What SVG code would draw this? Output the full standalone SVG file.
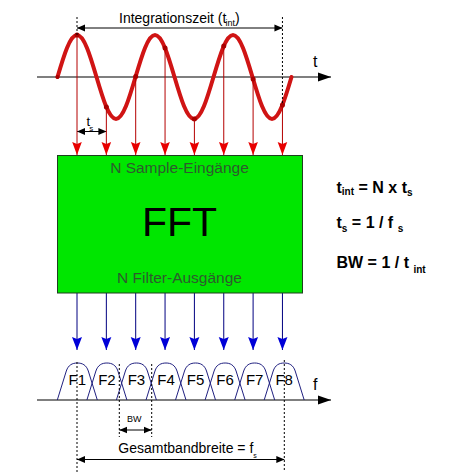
<svg xmlns="http://www.w3.org/2000/svg" width="449" height="472" viewBox="0 0 449 472">
<style>
text{font-family:"Liberation Sans",Arial,sans-serif}
.lbl{font-size:14px;fill:#000}
.box{fill:#00e600;stroke:#1f3f1f;stroke-width:1}
.boxt{font-size:15.5px;fill:#2e5a2e;text-anchor:middle}
.fft{font-size:41px;fill:#000;text-anchor:middle}
.frm{font-size:16px;font-weight:bold;fill:#000}
.sub{font-size:10px}
.axis{stroke:#000;stroke-width:1.2;fill:none}
.dim{stroke:#000;stroke-width:1;fill:none}
.dot{stroke:#000;stroke-width:1;stroke-dasharray:2,2;fill:none}
.samp{stroke:#b40000;stroke-width:1;fill:none}
.out{stroke:#000080;stroke-width:1;fill:none}
.wave{stroke:#d01414;stroke-width:4;fill:none;stroke-linecap:round}
.sdot{fill:#a80000}
.filt{stroke:#202080;stroke-width:1;fill:none}
.fl{font-size:15px;fill:#000;text-anchor:middle}
</style>
<defs>
<marker id="ar" markerUnits="userSpaceOnUse" viewBox="0 -6 13 12" markerWidth="13" markerHeight="12" refX="13" refY="0" orient="auto">
<path d="M0,-4.8 L13,0 L0,4.8 L2,0 z" fill="#e80000"/>
</marker>
<marker id="ab" markerUnits="userSpaceOnUse" viewBox="0 -6 13 12" markerWidth="13" markerHeight="12" refX="13" refY="0" orient="auto">
<path d="M0,-5 L13,0 L0,5 L2,0 z" fill="#0000d8"/>
</marker>
<marker id="ak" markerUnits="userSpaceOnUse" viewBox="0 -4 8 8" markerWidth="8" markerHeight="8" refX="8" refY="0" orient="auto-start-reverse">
<path d="M0,-3.5 L8,0 L0,3.5 z" fill="#000"/>
</marker>
<marker id="ax" markerUnits="userSpaceOnUse" viewBox="0 -5 13 10" markerWidth="13" markerHeight="10" refX="13" refY="0" orient="auto">
<path d="M0,-4.5 L13,0 L0,4.5 z" fill="#000"/>
</marker>
</defs>
<rect width="449" height="472" fill="#fff"/>

<g id="time-axis">
<line class="axis" x1="37" y1="77" x2="331" y2="77" marker-end="url(#ax)"/>
<text x="313" y="67" style="font-size:16px">t</text>
</g>

<g id="signal">
<path class="wave" d="M57.5,77 C63.86,55.48 69.94,35 77,35 S90.14,55.48 96.5,77 S108.94,119 116,119 S129.14,98.52 135.5,77 S147.94,35 155,35 S168.14,55.48 174.5,77 S186.94,119 194,119 S207.14,98.52 213.5,77 S225.94,35 233,35 S246.14,55.48 252.5,77 S264.94,119 272,119 S285.14,98.52 291.5,77"/>
<circle class="sdot" cx="57.5" cy="77" r="2"/>
<circle class="sdot" cx="77" cy="35" r="2.5"/>
<circle class="sdot" cx="106.35" cy="107" r="2.5"/>
<circle class="sdot" cx="135.7" cy="76.5" r="2.5"/>
<circle class="sdot" cx="165.05" cy="48" r="2.5"/>
<circle class="sdot" cx="194.4" cy="119" r="2.5"/>
<circle class="sdot" cx="223.75" cy="46.1" r="2.5"/>
<circle class="sdot" cx="253.1" cy="79" r="2.5"/>
<circle class="sdot" cx="282.45" cy="104.9" r="2.5"/>
</g>

<g id="integration-time">
<line class="dot" x1="77" y1="17" x2="77" y2="35"/>
<line class="dot" x1="282.45" y1="17" x2="282.45" y2="104"/>
<line class="dim" x1="77" y1="28" x2="282.45" y2="28" marker-start="url(#ak)" marker-end="url(#ak)"/>
<text class="lbl" x="119" y="23">Integrationszeit (t<tspan class="sub" style="font-size:9px" dx="-1" dy="3">int</tspan><tspan dy="-3">)</tspan></text>
</g>

<g id="sample-interval">
<line class="dim" x1="77" y1="131.5" x2="106.35" y2="131.5" marker-start="url(#ak)" marker-end="url(#ak)"/>
<text x="86.5" y="126" style="font-size:13px">t<tspan dx="-1" dy="5" style="font-size:8px">s</tspan></text>
</g>

<g id="connectors">
<line class="samp" x1="77" y1="35" x2="77" y2="155" marker-end="url(#ar)"/>
<line class="samp" x1="106.35" y1="107" x2="106.35" y2="155" marker-end="url(#ar)"/>
<line class="samp" x1="135.7" y1="76.5" x2="135.7" y2="155" marker-end="url(#ar)"/>
<line class="samp" x1="165.05" y1="48" x2="165.05" y2="155" marker-end="url(#ar)"/>
<line class="samp" x1="194.4" y1="119" x2="194.4" y2="155" marker-end="url(#ar)"/>
<line class="samp" x1="223.75" y1="46.1" x2="223.75" y2="155" marker-end="url(#ar)"/>
<line class="samp" x1="253.1" y1="79" x2="253.1" y2="155" marker-end="url(#ar)"/>
<line class="samp" x1="282.45" y1="104.9" x2="282.45" y2="155" marker-end="url(#ar)"/>
<line class="out" x1="77" y1="293" x2="77" y2="350" marker-end="url(#ab)"/>
<line class="out" x1="106.35" y1="293" x2="106.35" y2="350" marker-end="url(#ab)"/>
<line class="out" x1="135.7" y1="293" x2="135.7" y2="350" marker-end="url(#ab)"/>
<line class="out" x1="165.05" y1="293" x2="165.05" y2="350" marker-end="url(#ab)"/>
<line class="out" x1="194.4" y1="293" x2="194.4" y2="350" marker-end="url(#ab)"/>
<line class="out" x1="223.75" y1="293" x2="223.75" y2="350" marker-end="url(#ab)"/>
<line class="out" x1="253.1" y1="293" x2="253.1" y2="350" marker-end="url(#ab)"/>
<line class="out" x1="282.45" y1="293" x2="282.45" y2="350" marker-end="url(#ab)"/>
</g>

<g id="fft">
<rect class="box" x="57.5" y="155.5" width="245" height="137.5"/>
<text class="boxt" x="179.5" y="173">N Sample-Eingänge</text>
<text class="fft" x="179.5" y="236">FFT</text>
<text class="boxt" x="179.5" y="283">N Filter-Ausgänge</text>
</g>

<g id="formulas">
<text class="frm" x="336.5" y="193">t<tspan class="sub" dy="2">int</tspan><tspan dy="-2"> = N x t</tspan><tspan class="sub" dy="3">s</tspan></text>
<text class="frm" x="336.5" y="228">t<tspan class="sub" dy="4">s</tspan><tspan dy="-4"> = 1 / f </tspan><tspan class="sub" dy="4">s</tspan></text>
<text class="frm" x="336.5" y="268">BW  = 1 / t <tspan class="sub" dy="5">int</tspan></text>
</g>

<g id="freq-axis">
<line class="axis" x1="37" y1="400" x2="331" y2="400" marker-end="url(#ax)"/>
<text x="313" y="390" style="font-size:16px">f</text>
</g>

<g id="filters">
<g id="F1"><path class="filt" d="M57.3,400 L66.3,371 C68.3,365 72.3,363 77.3,363 C82.3,363 86.3,365 88.3,371 L97.3,400"/><text class="fl" x="77.3" y="385">F1</text></g>
<g id="F2"><path class="filt" d="M86.9,400 L95.9,371 C97.9,365 101.9,363 106.9,363 C111.9,363 115.9,365 117.9,371 L126.9,400"/><text class="fl" x="106.9" y="385">F2</text></g>
<g id="F3"><path class="filt" d="M116.4,400 L125.4,371 C127.4,365 131.4,363 136.4,363 C141.4,363 145.4,365 147.4,371 L156.4,400"/><text class="fl" x="136.4" y="385">F3</text></g>
<g id="F4"><path class="filt" d="M146,400 L155,371 C157,365 161,363 166,363 C171,363 175,365 177,371 L186,400"/><text class="fl" x="166" y="385">F4</text></g>
<g id="F5"><path class="filt" d="M175.5,400 L184.5,371 C186.5,365 190.5,363 195.5,363 C200.5,363 204.5,365 206.5,371 L215.5,400"/><text class="fl" x="195.5" y="385">F5</text></g>
<g id="F6"><path class="filt" d="M205.1,400 L214.1,371 C216.1,365 220.1,363 225.1,363 C230.1,363 234.1,365 236.1,371 L245.1,400"/><text class="fl" x="225.1" y="385">F6</text></g>
<g id="F7"><path class="filt" d="M234.7,400 L243.7,371 C245.7,365 249.7,363 254.7,363 C259.7,363 263.7,365 265.7,371 L274.7,400"/><text class="fl" x="254.7" y="385">F7</text></g>
<g id="F8"><path class="filt" d="M264.2,400 L273.2,371 C275.2,365 279.2,363 284.2,363 C289.2,363 293.2,365 295.2,371 L304.2,400"/><text class="fl" x="284.2" y="385">F8</text></g>
</g>

<g id="bandwidth">
<line class="dot" x1="119.3" y1="364" x2="119.3" y2="437"/>
<line class="dot" x1="151.7" y1="364" x2="151.7" y2="437"/>
<line class="dim" x1="119.3" y1="430" x2="151.7" y2="430" marker-start="url(#ak)" marker-end="url(#ak)"/>
<text x="127" y="422" style="font-size:9px">BW</text>
</g>

<g id="total-bandwidth">
<line class="dot" x1="77" y1="362" x2="77" y2="472"/>
<line class="dot" x1="284.3" y1="360" x2="284.3" y2="470"/>
<line class="dim" x1="77" y1="459.5" x2="284.3" y2="459.5" marker-start="url(#ak)" marker-end="url(#ak)"/>
<text class="lbl" x="118.3" y="452.5">Gesamtbandbreite = f<tspan dx="0" dy="5" style="font-size:7px">s</tspan></text>
</g>
</svg>
